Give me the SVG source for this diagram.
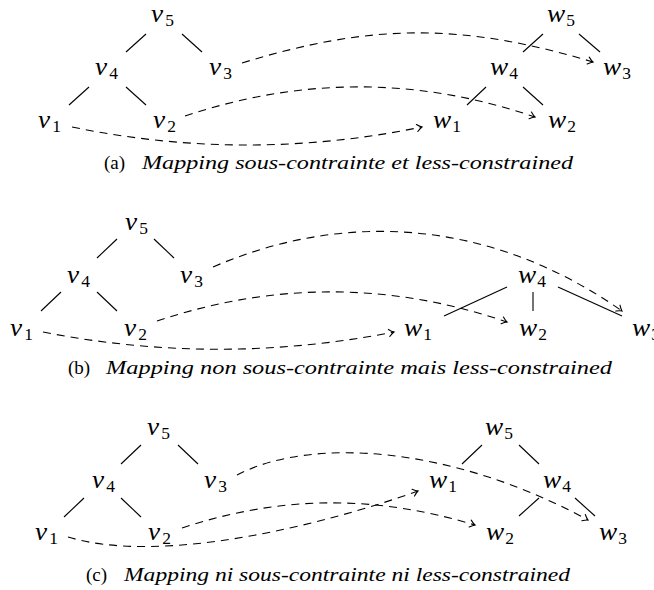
<svg xmlns="http://www.w3.org/2000/svg" width="654" height="590" viewBox="0 0 654 590">
<style>
.m{font-family:"Liberation Serif",serif;font-style:italic;font-size:25px;fill:#000}
.s{font-style:normal;font-size:16px}
.cap{font-family:"Liberation Serif",serif;font-size:19px;fill:#000}
.capi{font-family:"Liberation Serif",serif;font-style:italic;font-size:19px;fill:#000}
.e{stroke:#000;stroke-width:1.1;fill:none}
.d{stroke:#000;stroke-width:1.1;fill:none;stroke-dasharray:8 6;marker-end:url(#arr)}
</style>
<defs>
<marker id="arr" markerUnits="userSpaceOnUse" markerWidth="10" markerHeight="10" refX="0" refY="0" orient="auto" overflow="visible">
<path d="M-5,-3.6 Q-2,-0.9 0,0 Q-2,0.9 -5,3.6" fill="none" stroke="#000" stroke-width="1.1" stroke-linecap="round"/>
</marker>
</defs>
<g id="connectors">
<line class="e" x1="146" y1="34" x2="126" y2="52"/>
<line class="e" x1="182" y1="34" x2="202" y2="52"/>
<line class="e" x1="89" y1="87" x2="69" y2="105"/>
<line class="e" x1="126" y1="87" x2="146" y2="105"/>
<line class="e" x1="543" y1="34" x2="523" y2="52"/>
<line class="e" x1="579" y1="34" x2="600" y2="52"/>
<line class="e" x1="486" y1="87" x2="467" y2="105"/>
<line class="e" x1="523" y1="87" x2="543" y2="105"/>
<path class="d" d="M72,127 C189,151 305,151 422,127"/>
<path class="d" d="M185,116 C302,77 418,77 535,117"/>
<path class="d" d="M242,63 C372,23 463,23 593,62"/>
<line class="e" x1="117" y1="239" x2="97" y2="258"/>
<line class="e" x1="154" y1="239" x2="174" y2="258"/>
<line class="e" x1="61" y1="292" x2="41" y2="311"/>
<line class="e" x1="97" y1="292" x2="117" y2="311"/>
<line class="e" x1="507" y1="287" x2="444" y2="316"/>
<line class="e" x1="533" y1="292" x2="533" y2="311"/>
<line class="e" x1="558" y1="287" x2="622" y2="316"/>
<path class="d" d="M43,332 C160,355 277,355 394,332"/>
<path class="d" d="M157,321 C274,282 390,282 507,322"/>
<path class="d" d="M213,267 C350,208 495,222 622,311"/>
<line class="e" x1="141" y1="445" x2="121" y2="464"/>
<line class="e" x1="178" y1="445" x2="198" y2="464"/>
<line class="e" x1="84" y1="498" x2="64" y2="517"/>
<line class="e" x1="121" y1="498" x2="141" y2="517"/>
<line class="e" x1="482" y1="445" x2="462" y2="464"/>
<line class="e" x1="519" y1="445" x2="539" y2="464"/>
<line class="e" x1="539" y1="498" x2="519" y2="516"/>
<line class="e" x1="575" y1="498" x2="595" y2="516"/>
<path class="d" d="M68,537 C160,565 320,526 418,491"/>
<path class="d" d="M182,528 C282,495 375,495 475,525"/>
<path class="d" d="M237,475 C310,437 450,445 588,520"/>
</g>
<g id="a-v5"><text class="m" x="151" y="22" textLength="23" lengthAdjust="spacingAndGlyphs">v<tspan class="s" dx="2" dy="4">5</tspan></text></g>
<g id="a-v4"><text class="m" x="95" y="75" textLength="23" lengthAdjust="spacingAndGlyphs">v<tspan class="s" dx="2" dy="4">4</tspan></text></g>
<g id="a-v3"><text class="m" x="209" y="75" textLength="23" lengthAdjust="spacingAndGlyphs">v<tspan class="s" dx="2" dy="4">3</tspan></text></g>
<g id="a-v1"><text class="m" x="38" y="128" textLength="23" lengthAdjust="spacingAndGlyphs">v<tspan class="s" dx="2" dy="4">1</tspan></text></g>
<g id="a-v2"><text class="m" x="153" y="128" textLength="23" lengthAdjust="spacingAndGlyphs">v<tspan class="s" dx="2" dy="4">2</tspan></text></g>
<g id="a-w5"><text class="m" x="547" y="22" textLength="28" lengthAdjust="spacingAndGlyphs">w<tspan class="s" dx="1" dy="4">5</tspan></text></g>
<g id="a-w4"><text class="m" x="490" y="75" textLength="28" lengthAdjust="spacingAndGlyphs">w<tspan class="s" dx="1" dy="4">4</tspan></text></g>
<g id="a-w3"><text class="m" x="603" y="75" textLength="28" lengthAdjust="spacingAndGlyphs">w<tspan class="s" dx="1" dy="4">3</tspan></text></g>
<g id="a-w1"><text class="m" x="433" y="128" textLength="28" lengthAdjust="spacingAndGlyphs">w<tspan class="s" dx="1" dy="4">1</tspan></text></g>
<g id="a-w2"><text class="m" x="548" y="128" textLength="28" lengthAdjust="spacingAndGlyphs">w<tspan class="s" dx="1" dy="4">2</tspan></text></g>
<g id="caption-a"><text class="cap" x="104" y="169">(a)</text><text class="capi" x="142" y="169" textLength="431" lengthAdjust="spacingAndGlyphs">Mapping sous-contrainte et less-constrained</text></g>
<g id="b-v5"><text class="m" x="125" y="230" textLength="23" lengthAdjust="spacingAndGlyphs">v<tspan class="s" dx="2" dy="4">5</tspan></text></g>
<g id="b-v4"><text class="m" x="67" y="283" textLength="23" lengthAdjust="spacingAndGlyphs">v<tspan class="s" dx="2" dy="4">4</tspan></text></g>
<g id="b-v3"><text class="m" x="180" y="283" textLength="23" lengthAdjust="spacingAndGlyphs">v<tspan class="s" dx="2" dy="4">3</tspan></text></g>
<g id="b-v1"><text class="m" x="10" y="336" textLength="23" lengthAdjust="spacingAndGlyphs">v<tspan class="s" dx="2" dy="4">1</tspan></text></g>
<g id="b-v2"><text class="m" x="124" y="336" textLength="23" lengthAdjust="spacingAndGlyphs">v<tspan class="s" dx="2" dy="4">2</tspan></text></g>
<g id="b-w4"><text class="m" x="518" y="283" textLength="28" lengthAdjust="spacingAndGlyphs">w<tspan class="s" dx="1" dy="4">4</tspan></text></g>
<g id="b-w1"><text class="m" x="404" y="336" textLength="28" lengthAdjust="spacingAndGlyphs">w<tspan class="s" dx="1" dy="4">1</tspan></text></g>
<g id="b-w2"><text class="m" x="519" y="336" textLength="28" lengthAdjust="spacingAndGlyphs">w<tspan class="s" dx="1" dy="4">2</tspan></text></g>
<g id="b-w3"><text class="m" x="632" y="336" textLength="28" lengthAdjust="spacingAndGlyphs">w<tspan class="s" dx="1" dy="4">3</tspan></text></g>
<g id="caption-b"><text class="cap" x="68" y="374">(b)</text><text class="capi" x="106" y="374" textLength="506" lengthAdjust="spacingAndGlyphs">Mapping non sous-contrainte mais less-constrained</text></g>
<g id="c-v5"><text class="m" x="147" y="435" textLength="23" lengthAdjust="spacingAndGlyphs">v<tspan class="s" dx="2" dy="4">5</tspan></text></g>
<g id="c-v4"><text class="m" x="92" y="488" textLength="23" lengthAdjust="spacingAndGlyphs">v<tspan class="s" dx="2" dy="4">4</tspan></text></g>
<g id="c-v3"><text class="m" x="204" y="488" textLength="23" lengthAdjust="spacingAndGlyphs">v<tspan class="s" dx="2" dy="4">3</tspan></text></g>
<g id="c-v1"><text class="m" x="35" y="540" textLength="23" lengthAdjust="spacingAndGlyphs">v<tspan class="s" dx="2" dy="4">1</tspan></text></g>
<g id="c-v2"><text class="m" x="148" y="540" textLength="23" lengthAdjust="spacingAndGlyphs">v<tspan class="s" dx="2" dy="4">2</tspan></text></g>
<g id="c-w5"><text class="m" x="485" y="435" textLength="28" lengthAdjust="spacingAndGlyphs">w<tspan class="s" dx="1" dy="4">5</tspan></text></g>
<g id="c-w1"><text class="m" x="429" y="488" textLength="28" lengthAdjust="spacingAndGlyphs">w<tspan class="s" dx="1" dy="4">1</tspan></text></g>
<g id="c-w4"><text class="m" x="543" y="488" textLength="28" lengthAdjust="spacingAndGlyphs">w<tspan class="s" dx="1" dy="4">4</tspan></text></g>
<g id="c-w2"><text class="m" x="486" y="540" textLength="28" lengthAdjust="spacingAndGlyphs">w<tspan class="s" dx="1" dy="4">2</tspan></text></g>
<g id="c-w3"><text class="m" x="599" y="540" textLength="28" lengthAdjust="spacingAndGlyphs">w<tspan class="s" dx="1" dy="4">3</tspan></text></g>
<g id="caption-c"><text class="cap" x="86" y="581">(c)</text><text class="capi" x="124" y="581" textLength="446" lengthAdjust="spacingAndGlyphs">Mapping ni sous-contrainte ni less-constrained</text></g>
</svg>
